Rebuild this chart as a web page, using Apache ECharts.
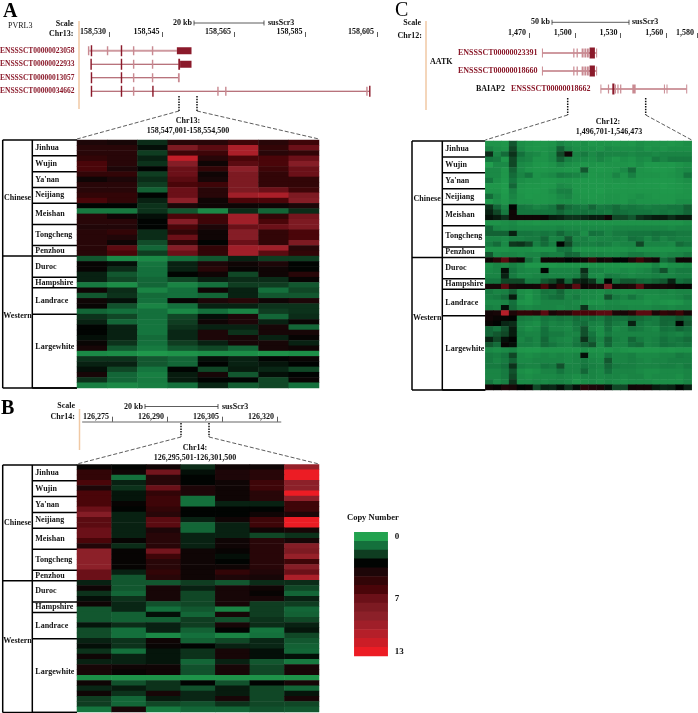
<!DOCTYPE html>
<html>
<head>
<meta charset="utf-8">
<title>Copy number heatmaps</title>
<style>
  html, body { margin: 0; padding: 0; background: #fff; }
  #main { width: 698px; height: 713px; }
</style>
<script src="https://cdn.jsdelivr.net/npm/echarts@6/dist/echarts.min.js"></script>
</head>
<body>
<div id="main"></div>
<script>
// rows per breed, same for all three panels
const breedNames = ['Jinhua', 'Wujin', "Ya'nan", 'Neijiang', 'Meishan', 'Tongcheng', 'Penzhou', 'Duroc', 'Hampshire', 'Landrace', 'Largewhite']
const breedRows = [3, 3, 3, 3, 4, 4, 2, 4, 2, 5, 14]
const chineseBreeds = 7

const legendValues = [0, 1, 2, 3, 4, 5, 6, 7, 8, 9, 10, 11, 12, 13]
const legendColors = ['#22a24f', '#14703c', '#0f3d21', '#010402', '#1d0608', '#320507', '#4a0509', '#6b1018', '#7d1a22', '#8c2029', '#a01f29', '#b51f29', '#cc1d26', '#ec1c24']
const legendTicks = [0, 7, 13]

// Panel A, 8 windows
const copyA = [
  [4, 3.8, 2.3, 4.5, 4.5, 5.5, 4.5, 5.5],
  [4.5, 4.5, 2.8, 8, 6.5, 10.5, 5, 7],
  [4.5, 4.5, 2, 5.5, 5.5, 10.5, 4.5, 5],
  [5, 4.5, 2.5, 11.5, 4.5, 6, 6, 7],
  [6, 4.5, 2.2, 8.5, 3.5, 6.5, 6, 8.5],
  [6, 4, 3, 7, 5, 9, 5.5, 7],
  [5, 5, 2, 7, 3.5, 8, 5, 7],
  [3.5, 4, 2.3, 6.5, 3.8, 8, 5, 5],
  [4.5, 4.5, 2, 6, 5.5, 8, 5, 5],
  [4.5, 4.5, 1.3, 7, 4.5, 8, 7, 5.5],
  [5, 5, 3, 7, 4.5, 10, 10.5, 8],
  [6, 5, 2.5, 9, 3.5, 6, 6, 8.5],
  [3, 3, 2.2, 4, 3.5, 3.5, 3.5, 4],
  [0.8, 0.8, 2.2, 1.5, 0.5, 2.3, 1.2, 2.3],
  [4.5, 3.5, 2.8, 6, 5.5, 10, 5, 7.5],
  [4.5, 4.5, 3, 8.5, 5.5, 10, 6, 8],
  [4.2, 4.2, 3, 6, 4, 7, 7, 8],
  [4.5, 5, 2.3, 5, 3.5, 8.5, 5, 6],
  [4.5, 4.2, 2.3, 7, 3.5, 8.5, 5, 6],
  [4.5, 3.5, 1.7, 5, 3, 7, 5, 8],
  [4.5, 6.5, 1.2, 8.5, 5, 10, 10, 4.5],
  [4.5, 6, 2, 7, 5, 10, 6.5, 5],
  [1.5, 0.5, 0.5, 1, 1.5, 2.5, 2, 2],
  [3.2, 2.8, 0.9, 2.5, 4, 3.5, 4, 3],
  [3.2, 2.3, 1, 2.5, 4.5, 3.2, 3.5, 3],
  [2.5, 1.5, 1, 3, 3.5, 1.8, 3.5, 4.5],
  [2.5, 1.8, 1.2, 1.8, 2.5, 2.3, 2.3, 3.2],
  [0.8, 0.4, 1.2, 0.6, 1, 2, 2, 1.5],
  [3.5, 2.3, 0.6, 1, 3.5, 2.5, 1, 1.8],
  [1.5, 2.2, 1.1, 1, 1.2, 2.5, 1.5, 1.5],
  [3.5, 2.8, 1, 3.2, 4, 4.5, 3.5, 4],
  [3.3, 1.6, 0.6, 1, 2.5, 2.5, 2.2, 2.2],
  [1.2, 1, 1, 0.5, 1, 0.6, 2, 2.2],
  [2.2, 1.8, 1, 1.8, 2.8, 4, 1.2, 2.3],
  [2.5, 1.2, 0.9, 2, 3.5, 4, 2.5, 3.3],
  [3, 2.5, 0.9, 2.2, 2.5, 2.5, 3.8, 1.2],
  [3, 2.5, 0.9, 2.4, 4, 2.2, 3.8, 3.8],
  [2.8, 2.5, 1.1, 2.4, 4, 3.8, 2.5, 3.2],
  [3.3, 2.2, 1, 2, 2.5, 3.8, 3.8, 2.5],
  [3.8, 1.5, 0.8, 1.5, 1.8, 1.2, 3.8, 3.5],
  [0.5, 0.4, 0.2, 0.3, 0.4, 0.4, 0.3, 0.4],
  [2.2, 2.2, 1.5, 1.2, 2.8, 2.5, 3, 3.3],
  [2.5, 2.5, 1.5, 1.2, 3, 2.5, 2.7, 3],
  [2.8, 1.8, 0.9, 3, 1.8, 2.6, 2.4, 1.8],
  [3.8, 1.2, 0.7, 2.6, 3.8, 1.5, 2.8, 3],
  [2.2, 1.2, 0.8, 2.6, 3, 3, 1.8, 3.3],
  [0.7, 0.5, 0.7, 1, 2.4, 1.4, 1.8, 1]
]

// Panel B, 7 windows
const copyB = [
  [3.2, 3, 3.5, 2.3, 3.5, 3.5, 9.5],
  [5, 3.5, 7.5, 2.8, 4, 4.5, 13],
  [5, 1, 4.5, 3, 4, 4.5, 13],
  [6, 2.5, 4.5, 3, 3.5, 5.5, 9],
  [4, 2.2, 7, 4, 3.5, 5.5, 9],
  [6, 2.7, 5, 4, 3.5, 4.5, 13],
  [6, 2.7, 5.5, 1, 3.5, 4.5, 9],
  [6, 3.2, 5.5, 1, 2.5, 2.5, 5.5],
  [7, 3, 5, 3, 3, 3, 5.5],
  [8.5, 2.5, 4.5, 3, 3, 3.5, 4],
  [6.5, 2.5, 6.5, 2.5, 3.5, 5.5, 13],
  [6.5, 2.5, 6.5, 1.2, 2.5, 5.5, 13],
  [7, 2.5, 4, 1.2, 2.5, 3.5, 3.8],
  [7, 2.5, 4.5, 2.5, 2.5, 1.8, 2.2],
  [6, 3.2, 4.5, 2.5, 3.5, 4.5, 3.8],
  [4.2, 2.3, 4.5, 2.5, 3.5, 4.5, 8.5],
  [9, 3.2, 7.5, 3.5, 3.2, 4.5, 8],
  [9, 3.2, 5.5, 3.5, 2.8, 4.5, 9.5],
  [9, 3.2, 4.5, 3.5, 3, 4.5, 5.5],
  [9, 3.2, 4.5, 3.5, 3.5, 4.5, 8.5],
  [7, 2.5, 5, 3.5, 5, 4.2, 7],
  [7, 1.5, 4.5, 3.5, 4, 3.8, 10.5],
  [2.5, 1.5, 1.5, 2, 1.5, 2.3, 2.3],
  [3.5, 1.5, 3.8, 2.5, 3.8, 3.5, 1.8],
  [2.2, 1.2, 3.8, 1.8, 3.8, 3.2, 1.2],
  [2.8, 2.2, 3.8, 1.8, 3.8, 3.8, 2.5],
  [3.5, 2.4, 1.6, 1.8, 3.8, 2, 2],
  [1.5, 2.4, 1, 1.5, 0.6, 2, 1.2],
  [1.5, 1.3, 2.8, 1.2, 3.8, 2, 1.3],
  [1.5, 1.3, 1.3, 2, 1.6, 2.2, 1.8],
  [2.7, 2.3, 2.5, 2, 3.8, 2.3, 2.5],
  [1.7, 1, 2.5, 1.3, 3, 0.9, 2.7],
  [1.7, 1, 0.5, 1, 0.6, 1, 1.8],
  [2.5, 2.2, 3.5, 1.3, 1.8, 2.4, 1.5],
  [2.8, 2.2, 3.3, 3, 2.5, 2.4, 1.3],
  [2.2, 1, 2.7, 2.2, 3.8, 2.8, 1.2],
  [3.5, 2.5, 2.7, 2.2, 3.8, 2.8, 2.8],
  [2.5, 2.5, 2.7, 1.2, 2.5, 1.5, 0.8],
  [3.8, 3.5, 3.5, 1.6, 3.8, 1.8, 3.8],
  [3.8, 3.2, 3.5, 1.6, 3.8, 1.8, 3.8],
  [0.4, 0.3, 0.3, 0.3, 0.3, 0.3, 0.3],
  [3.5, 1.6, 2.2, 3, 1.6, 3, 3.8],
  [2.4, 2.6, 2.2, 1.6, 2.6, 1.8, 1.2],
  [3.5, 2.2, 3.8, 2.4, 2.6, 1.8, 2.7],
  [2, 1.2, 2.6, 2.4, 3.8, 1.8, 3.8],
  [2, 1.2, 1.8, 1.6, 2.2, 1.8, 1.8],
  [0.9, 3.8, 0.8, 1.2, 1.2, 1.6, 1.5]
]

// Panel C, 26 windows
const copyC = [
  [.3, .3, .25, 1.5, .4, .3, .25, .25, .3, .6, .4, .3, .4, .25, .3, .3, .25, .3, .25, .4, .3, .3, .3, .25, .3, .4],
  [.6, .4, .3, 1.8, .5, .3, .25, .3, .4, 1.3, .6, .4, .4, .4, .3, .5, .4, .4, .4, .5, .3, .4, .3, .4, .4, .4],
  [2.3, .6, 1.1, 2.2, 1, .6, .5, .3, .5, 1.8, 3.5, .6, .8, .5, .7, .6, .6, .6, .5, .6, .6, .5, .6, .6, .6, .6],
  [.9, .8, .25, 1.8, .7, .6, .3, .3, .5, 1.3, .7, .5, .5, .4, .6, .4, .25, .4, .3, .5, .4, .8, .6, .8, .8, .8],
  [.1, .5, .5, 1.8, .5, .4, .25, .2, .3, .6, .4, .3, .25, .3, .25, .3, .3, .3, .25, .4, .2, .2, .25, .2, .3, .4],
  [.5, .5, .25, 1.3, .5, .3, .25, .25, .3, .3, .25, .25, 1.5, .25, .2, .25, .3, .5, 1.1, .3, .25, .2, .2, .25, .4, .5],
  [.5, .5, .25, 1.1, .6, .9, .3, .4, .5, .8, .7, .6, .5, .25, .3, .3, .6, .3, .7, .3, .3, .3, .25, .3, .4, .9],
  [.9, .4, .2, .9, .4, .3, .3, .2, .25, .3, .3, .25, .2, .2, .2, .25, .3, .25, .3, .25, .2, .2, .2, .2, .3, .4],
  [.25, .25, .15, 1.2, .3, .25, .25, .2, .25, .5, .4, .25, .25, .2, .2, .25, .2, .2, .25, .2, .2, .2, .15, .2, .25, .3],
  [.3, .3, .15, .7, .25, .2, .2, .25, .4, .7, .7, .25, .2, .2, .15, .25, .25, .25, .25, .25, .25, .25, .2, .2, .25, .3],
  [1.1, .5, .2, .6, .3, .2, .25, .25, .3, .5, .6, .3, .25, .2, .25, .3, .3, .25, .3, .4, .3, .25, .25, .25, .3, .3],
  [.2, .4, .25, .5, .3, .3, .25, .25, .3, .4, .4, .3, .3, .25, .25, .3, .3, .25, .4, .3, .3, .3, .25, .25, .4, .4],
  [2.2, 1.2, .6, 3, .9, .8, .6, .7, .9, 1.6, 1.1, .9, .8, 1.2, .8, .9, 1.1, .8, .9, .8, .7, .8, .8, .9, .9, 1.3],
  [2.5, 1.8, .8, 3.5, .9, .9, .9, .9, .9, 1.2, .9, .9, 1, .9, .9, .8, 1.1, 1, .9, .9, .9, .8, .9, .8, .9, 1.2],
  [2.8, 2.6, 2.2, 3.5, 3.5, 3.5, 3.5, 3.3, 2.6, 2.5, 2.2, 2.2, 2.4, 2.6, 2.6, 3.5, 1.8, 1.8, 1.5, 2.2, 2.4, 2.6, 2.6, 2.3, 2.6, 2.6],
  [.3, .3, .4, .5, .3, .3, .25, .3, .3, .3, .3, .3, .3, .3, .3, .3, .3, .3, .3, .3, .3, .3, .3, .3, .3, .4],
  [1.2, .6, .5, .6, .5, .5, .5, .5, .5, .6, .5, .5, .5, .5, .5, .5, .6, .6, .6, .6, .6, .6, .6, .5, .6, .6],
  [1.3, 1.3, 1.3, 2.5, .9, .9, .8, .9, .8, 1.2, .8, .8, .4, 1, .9, .6, .8, .8, .9, .9, .9, 1, .9, .9, .8, .8],
  [.6, .6, .5, .7, .7, .8, .8, 1.2, .6, .7, 1.5, .6, .7, .5, .6, .6, .7, .6, 1, .9, .6, .9, .6, .8, .7, .7],
  [.8, 1.1, .5, 2.1, 2.2, 1.8, .7, 1.1, .7, 3, 1.8, .8, .7, .7, .8, .7, .5, .6, .6, 1.8, .6, .6, .6, .5, 1.1, .9],
  [.3, .3, .3, .4, .4, .4, .3, .3, .3, .9, .9, .3, .3, .3, .3, .3, .3, .3, .4, .3, .3, .3, .3, .3, .4, .4],
  [1.5, .5, .6, .6, .5, .6, .6, .8, .7, .7, 1.2, 1.1, .6, .6, .6, .5, .5, .6, .8, .8, .6, .6, .5, .6, .6, .8],
  [3.5, 4.5, 6.5, 4, 3.5, 1.1, .6, 3.5, 3.5, 3.5, 3, 3.3, 3.5, 5, 3.5, 3.8, 3, 3, 4, 5.5, 4, 3.5, 1.1, 1.5, 3.5, 3.5],
  [.4, .6, .5, .7, .5, .25, .25, .25, .25, .3, .3, .3, .3, .3, .3, .3, .3, .25, .25, .3, .3, .6, .25, .4, .4, .5],
  [.5, .6, 2.8, .9, .6, .5, .5, 3, .6, .6, .6, .6, 2.3, .6, .6, .4, .4, .5, .4, .5, .6, .9, 1.6, .6, .8, .8],
  [.6, .6, 2.5, .8, .5, .5, .6, .7, .6, .6, .6, .7, 1.8, .5, .4, .8, .7, .6, .5, .6, .6, .7, .6, .6, .7, .7],
  [.9, .9, 1.8, 1.8, 1.8, .8, .8, 1.5, 1.8, 2.6, 1.2, 2.4, 2.6, 2.2, .8, 3, 1.1, 1.5, 1.5, 1.2, 1.1, 1.3, 1.5, 2.5, 1, 1.2],
  [3.8, 3.8, 6.5, 3.8, 3.6, 3.6, 3.7, 6, 3.6, 5, 3.9, 6.5, 3.4, 3.8, 3.9, 8, 3.6, 3.9, 4.2, 6.5, 3.8, 3.6, 3.8, 3.6, 3.2, 3.2],
  [.8, .6, .7, 1.2, .4, .3, .5, .9, .8, 1.2, .6, .6, .5, .5, .4, .6, .5, .4, .4, .5, .5, .5, .6, .5, .6, .6],
  [.7, .8, 1.1, 2.6, .5, .25, .5, .8, 1, 1.1, .6, .8, .5, .5, .4, 1.6, .8, .6, .9, .6, .4, .4, .5, .5, .6, .8],
  [.5, .5, .6, 1, .3, .25, .4, .6, .6, .6, .6, .5, .4, .3, .3, .5, .5, .4, .4, .4, .3, .4, .3, .25, .3, .5],
  [.7, .6, 2.8, 1.1, .6, .5, .6, .6, .6, .5, .6, .6, 2.2, .6, .5, .6, .6, .6, .5, .5, .5, .6, .6, .5, .6, .6],
  [3.6, 3.8, 11, 4, 5, 5, 4.6, 6.5, 3.9, 4.5, 4.5, 6, 6, 6, 6.5, 6.5, 4, 3.8, 4.6, 6.5, 6.5, 4, 5, 4.5, 5.5, 3.8],
  [3.6, 3.3, 3.2, 3, .8, .7, .6, .9, .8, .9, .8, 1.1, .9, 1, .8, 1.2, 1, 1, 1.2, 1.1, .9, .8, 1.2, 1.2, 1.5, 1.3],
  [3.3, 3, 2.4, 2.3, .6, .5, .4, .8, .6, .7, .6, .9, 1.1, .7, .6, 1.1, .8, .7, 2.5, .9, .7, .8, 1.2, 1.1, 3, 1.5],
  [1.2, .9, 1.6, 2.6, .6, .4, .5, 1, .6, .6, .5, .8, 1.6, .6, .4, 1, .5, .6, .9, .8, .6, .5, 1, .9, 1.2, 1],
  [1.2, 1.5, 1.8, 2.6, .7, .6, .6, 1, .8, .8, .6, .6, 1.6, .9, .4, .8, .6, .6, .6, .6, .6, .6, .8, .7, .6, .8],
  [2.5, 1.8, 2.8, 3, .6, .8, .6, 1.2, .7, .6, .5, .8, 2.2, 1.1, .6, 1.3, .7, .6, 1.2, .8, .6, .7, 1, .8, .9, 1.1],
  [1.5, 1.1, 3.2, 2.8, .7, .7, .6, 1.1, .9, .7, .6, .9, 1.3, 1.6, .5, 1.2, .6, .6, 1, 1.1, .6, .7, 1, .9, .8, .9],
  [.5, .4, .5, .6, .25, .2, .2, .3, .3, .3, .3, .3, .4, .3, .3, .3, .4, .3, .25, .25, .25, .25, .3, .25, .3, .3],
  [.8, .7, .9, 1.8, .5, .4, .5, .6, .5, .6, .5, .6, 2.8, .5, .4, .9, .6, .6, .7, .5, .5, .5, .6, .6, .8, .7],
  [.8, .6, .8, 1.3, .5, .5, .6, .6, .6, .6, .5, .6, .8, .6, .5, 1.5, .6, .6, .7, .6, .5, .6, .6, .7, .7, .7],
  [.8, .8, 1, 2.2, .7, .6, .6, .9, .8, 1.6, .6, .6, .9, .7, .6, 1.2, .8, .7, .7, .6, .6, .6, .7, .7, .6, .8],
  [.6, .6, .8, 1.6, .4, .3, .4, .6, .6, .9, .6, .6, 1.2, .6, .5, 1, .6, .6, .6, .5, .4, .4, .5, .5, .5, .6],
  [.6, .6, .8, 1.8, .5, .4, .5, .5, .5, .6, .5, .4, .6, .6, .5, .6, .6, .5, .6, .6, .4, .5, .5, .5, .4, .6],
  [.9, .5, .7, 2.2, .5, .5, .6, .5, .6, .6, .5, .25, .4, .5, .4, .6, .5, .4, .5, .5, .5, .4, .4, .4, .4, .6],
  [3.5, 3.2, 4, 3.8, 3, 3.2, 1.8, 2.5, 2.4, 2.8, 2.2, 2.8, 4.5, 4, 3.8, 2.8, 1.8, 1.8, 3.5, 3.6, 3.6, 2.6, 2.4, 2.5, 3, 2.5]
]

// gene models, [row, start kb, end kb, kind]
const genesA = ['ENSSSCT00000023058', 'ENSSSCT00000022933', 'ENSSSCT00000013057', 'ENSSSCT00000034662']
const tracksA = [
  [0, 158524.5, 158549, 'wide'], [0, 158524.1, 158524.5, 'light'], [0, 158524.9, 158525.3, 'dark'],
  [0, 158529.4, 158529.8, 'light'], [0, 158533.3, 158533.7, 'dark'], [0, 158536.7, 158537.1, 'light'],
  [0, 158542, 158542.4, 'light'], [0, 158549, 158553.1, 'block'],
  [1, 158525, 158549.5, 'line'], [1, 158524.8, 158525.2, 'dark'], [1, 158533.3, 158533.7, 'dark'],
  [1, 158536.7, 158537.1, 'light'], [1, 158542, 158542.4, 'light'], [1, 158549.4, 158549.9, 'dark'],
  [1, 158549.9, 158553.1, 'block'],
  [2, 158525, 158549.5, 'line'], [2, 158524.9, 158525.3, 'dark'], [2, 158533.3, 158533.7, 'dark'],
  [2, 158536.7, 158537.1, 'light'], [2, 158542, 158542.4, 'light'], [2, 158549.3, 158549.8, 'light'],
  [3, 158525, 158603, 'line'], [3, 158524.9, 158525.3, 'dark'], [3, 158533.3, 158533.7, 'dark'],
  [3, 158536.7, 158537.1, 'light'], [3, 158542.1, 158542.5, 'dark'], [3, 158560.3, 158560.7, 'light'],
  [3, 158562.5, 158562.9, 'light'], [3, 158602, 158602.4, 'light'], [3, 158602.8, 158603.2, 'dark']
]

const genesC = ['ENSSSCT00000023391', 'ENSSSCT00000018660', 'ENSSSCT00000018662']
const tracksC = [
  [0, 1478.7, 1514.3, 'wide'], [0, 1478.5, 1479.1, 'light'], [0, 1499, 1499.8, 'light'], [0, 1501.2, 1502, 'light'],
  [0, 1504.5, 1505.8, 'light'], [0, 1506.3, 1507.6, 'light'], [0, 1508, 1509.2, 'light'], [0, 1509.7, 1513.2, 'tall'],
  [0, 1514, 1514.6, 'light'],
  [1, 1478.7, 1514.3, 'wide'], [1, 1478.5, 1479.1, 'light'], [1, 1499, 1499.8, 'light'], [1, 1501.2, 1502, 'light'],
  [1, 1504.5, 1505.8, 'light'], [1, 1506.3, 1507.6, 'light'], [1, 1508, 1509.2, 'light'], [1, 1509.7, 1513.2, 'tall'],
  [1, 1514, 1514.6, 'light'],
  [2, 1517, 1573.3, 'wide'], [2, 1516.8, 1517.4, 'light'], [2, 1521.7, 1522.5, 'light'], [2, 1524.6, 1526, 'dark'],
  [2, 1526.2, 1527, 'light'], [2, 1527.9, 1528.7, 'light'], [2, 1529.7, 1530.5, 'light'], [2, 1537.7, 1539.9, 'light'],
  [2, 1558.4, 1559, 'light'], [2, 1560.1, 1560.7, 'light'], [2, 1573, 1573.6, 'light']
]

const kbTicksA = [158530, 158545, 158565, 158585, 158605]
const kbTicksB = [126275, 126290, 126305, 126320]
const kbTicksC = [1470, 1500, 1530, 1560, 1580]

const serif = '"Liberation Serif", "Times New Roman", serif'
const trackStyle = {
  line: { fill: '#a04450', h: 1 },
  wide: { fill: '#cf9aa0', h: 1.8 },
  dark: { fill: '#8b1a2b', h: 11 },
  light: { fill: '#c98a92', h: 9 },
  block: { fill: '#8b1a2b', h: 7 },
  tall: { fill: '#8b1a2b', h: 11 }
}

function renderTrack(params, api) {
  const st = trackStyle[api.value(3)]
  const p0 = api.coord([api.value(1), api.value(0)])
  const p1 = api.coord([api.value(2), api.value(0)])
  return {
    type: 'rect',
    shape: { x: p0[0], y: p0[1] - st.h / 2, width: Math.max(p1[0] - p0[0], 1), height: st.h },
    style: { fill: st.fill }
  }
}

function cells(rows) {
  const out = []
  rows.forEach((row, r) => row.forEach((v, c) => out.push([c, r, v])))
  return out
}

function text(str, x, y, size, align, color, weight) {
  return {
    type: 'text',
    silent: true,
    style: {
      text: str, x: x, y: y,
      font: (weight || 'bold') + ' ' + size + 'px ' + serif,
      fill: color || '#111',
      textAlign: align || 'left',
      textVerticalAlign: 'middle'
    }
  }
}

function line(points, width, color, dash) {
  return {
    type: 'polyline',
    silent: true,
    shape: { points: points },
    style: { stroke: color || '#000', lineWidth: width, lineDash: dash || null, fill: null }
  }
}

// breed table on the left of a heatmap
function table(left, mid, right, top, rowH) {
  const out = []
  let row = 0
  const bottom = top + 47 * rowH
  let split = top
  out.push(line([[left, top], [right, top]], 1.5))
  breedNames.forEach((name, i) => {
    const y0 = top + row * rowH
    row += breedRows[i]
    const y1 = top + row * rowH
    const shift = name === 'Largewhite' ? -4 : 0
    out.push(text(name, mid + 3, (y0 + y1) / 2 + shift, 8))
    if (i === chineseBreeds - 1) {
      split = y1
      out.push(line([[left, y1], [right, y1]], 1.5))
    } else {
      out.push(line([[mid, y1], [right, y1]], 1.5))
    }
  })
  out.push(line([[left, top], [left, bottom]], 1.5))
  out.push(line([[mid, top], [mid, bottom]], 1.5))
  out.push(line([[left, bottom], [right, bottom]], 1.5))
  out.push(text('Chinese', (left + mid) / 2, (top + split) / 2, 8, 'center'))
  out.push(text('Western', (left + mid) / 2, (split + bottom) / 2 - 6, 8, 'center'))
  return out
}

function scaleBar(label, x0, x1, y, x2) {
  return [
    text(label, x0 - 2, y, 8, 'right'),
    line([[x0, y], [x1, y]], 0.8, '#333'),
    line([[x0, y - 2.5], [x0, y + 2.5]], 0.8, '#333'),
    line([[x1, y - 2.5], [x1, y + 2.5]], 0.8, '#333'),
    text('susScr3', x2, y, 8)
  ]
}

function zoomLink(xa, xb, y0, y1, left, right, top) {
  const dash = [4, 2]
  return [
    line([[xa, y0], [xa, y1]], 1.5, '#111', [1.5, 1.2]),
    line([[xb, y0], [xb, y1]], 1.5, '#111', [1.5, 1.2]),
    line([[xa, y1], [left, top]], 0.8, '#333', dash),
    line([[xb, y1], [right, top]], 0.8, '#333', dash)
  ]
}

const orange = '#f0c9a4'
const geneRed = '#8b1a2b'
const graphics = [].concat(
  // panel A
  [
    text('A', 3, 12, 20, 'left', '#000'),
    text('PVRL3', 8, 26, 8, 'left', '#111', 'normal'),
    text('Scale', 73.5, 24, 8, 'right'),
    text('Chr13:', 73.5, 34, 8, 'right'),
    line([[79, 21], [79, 109]], 1.5, orange),
    text('Chr13:', 188, 121, 8, 'center'),
    text('158,547,001-158,554,500', 188, 131, 8, 'center')
  ],
  genesA.map((g, i) => text(g, 0, [50.7, 64.2, 77.7, 91.2][i], 7.5, 'left', geneRed)),
  scaleBar('20 kb', 194, 264, 23, 268),
  zoomLink(179, 197, 96, 111, 77, 319, 139),
  table(2.7, 32.3, 77, 140, 248 / 47),
  // panel B
  [
    text('B', 1, 409, 20, 'left', '#000'),
    text('Scale', 75, 405.7, 8, 'right'),
    text('Chr14:', 75, 416.7, 8, 'right'),
    line([[79.5, 409], [79.5, 450]], 1.5, orange),
    text('Chr14:', 195, 448, 8, 'center'),
    text('126,295,501-126,301,500', 195, 458, 8, 'center')
  ],
  scaleBar('20 kb', 145, 218, 406.5, 222),
  zoomLink(181, 209, 423, 437, 77, 319, 464),
  table(2.7, 32.3, 77, 465, 247.5 / 47),
  // panel C
  [
    text('C', 395, 11, 20, 'left', '#000', 'normal'),
    text('Scale', 421, 22.7, 8, 'right'),
    text('Chr12:', 422, 35.5, 8, 'right'),
    line([[426, 21], [426, 110]], 1.5, orange),
    text('AATK', 430, 62.3, 8),
    text('BAIAP2', 476, 89.3, 8),
    text(genesC[0], 458, 53, 8, 'left', geneRed),
    text(genesC[1], 458, 71, 8, 'left', geneRed),
    text(genesC[2], 511, 89.3, 8, 'left', geneRed),
    text('Chr12:', 608, 122, 8, 'center'),
    text('1,496,701-1,546,473', 609, 132, 8, 'center')
  ],
  scaleBar('50 kb', 552, 629, 22.3, 632),
  zoomLink(567.7, 645.7, 98, 115, 485.3, 691.7, 140),
  table(412, 442.3, 485.3, 141, 249 / 47),
  // legend title
  [text('Copy Number', 347, 518, 8.5)]
)

function kbAxis(gridIndex, min, max, ticks, offset, showLine) {
  return {
    type: 'value',
    gridIndex: gridIndex,
    position: 'top',
    min: min,
    max: max,
    offset: offset,
    splitLine: { show: false },
    axisLine: { show: showLine, onZero: false, lineStyle: { color: '#999', width: 1.5 } },
    axisTick: { show: true, length: 5, customValues: ticks, lineStyle: { color: '#333', width: 0.8 } },
    axisLabel: {
      customValues: ticks,
      showMinLabel: true,
      showMaxLabel: true,
      hideOverlap: false,
      align: 'right',
      margin: 1,
      padding: [0, 3, 0, 0],
      fontFamily: serif,
      fontSize: 8,
      fontWeight: 'bold',
      color: '#111',
      formatter: v => Number(v).toLocaleString('en-US')
    }
  }
}

function hiddenCat(gridIndex, data, inverse) {
  return { type: 'category', gridIndex: gridIndex, data: data, show: false, inverse: !!inverse }
}

function heatSeries(rows, idx) {
  return {
    type: 'heatmap',
    xAxisIndex: idx,
    yAxisIndex: idx,
    data: cells(rows),
    progressive: 0,
    animation: false,
    emphasis: { disabled: true }
  }
}

const rowIds = copyA.map((r, i) => i)

const chart = echarts.init(document.getElementById('main'), null, { renderer: 'canvas' })
chart.setOption({
  animation: false,
  backgroundColor: '#fff',
  graphic: { elements: graphics },
  visualMap: {
    show: false,
    min: 0,
    max: 13,
    seriesIndex: [0, 1, 2, 3],
    inRange: { color: legendColors }
  },
  grid: [
    { left: 77, top: 140, width: 242, height: 248 },
    { left: 77, top: 464.5, width: 242, height: 247.5 },
    { left: 485.3, top: 141, width: 206.4, height: 249 },
    { left: 354.3, top: 532.3, width: 33.4, height: 123.7 },
    { left: 80.4, top: 44, width: 314.4, height: 54 },
    { left: 82.7, top: 421.7, width: 198, height: 10 },
    { left: 429.7, top: 44, width: 267.2, height: 54 }
  ],
  xAxis: [
    hiddenCat(0, copyA[0].map((v, i) => i)),
    hiddenCat(1, copyB[0].map((v, i) => i)),
    hiddenCat(2, copyC[0].map((v, i) => i)),
    hiddenCat(3, ['band']),
    kbAxis(4, 158522, 158610, kbTicksA, 7, false),
    kbAxis(5, 126267, 126321, kbTicksB, 0, true),
    kbAxis(6, 1405, 1580, kbTicksC, 6, false)
  ],
  yAxis: [
    hiddenCat(0, rowIds, true),
    hiddenCat(1, rowIds, true),
    hiddenCat(2, rowIds, true),
    {
      type: 'category',
      gridIndex: 3,
      data: legendValues,
      inverse: true,
      position: 'right',
      axisLine: { show: false },
      axisTick: { show: false },
      axisLabel: {
        interval: (i, v) => legendTicks.includes(Number(v)),
        margin: 7,
        fontFamily: serif,
        fontSize: 9,
        fontWeight: 'bold',
        color: '#111'
      }
    },
    hiddenCat(4, genesA, true),
    { type: 'value', gridIndex: 5, show: false, min: 0, max: 1 },
    hiddenCat(6, genesC, true)
  ],
  series: [
    heatSeries(copyA, 0),
    heatSeries(copyB, 1),
    heatSeries(copyC, 2),
    heatSeries(legendValues.map(v => [v]), 3),
    { type: 'custom', xAxisIndex: 4, yAxisIndex: 4, clip: false, silent: true, renderItem: renderTrack, encode: { x: [1, 2], y: 0 }, data: tracksA },
    { type: 'custom', xAxisIndex: 6, yAxisIndex: 6, clip: false, silent: true, renderItem: renderTrack, encode: { x: [1, 2], y: 0 }, data: tracksC }
  ]
})
</script>
</body>
</html>
